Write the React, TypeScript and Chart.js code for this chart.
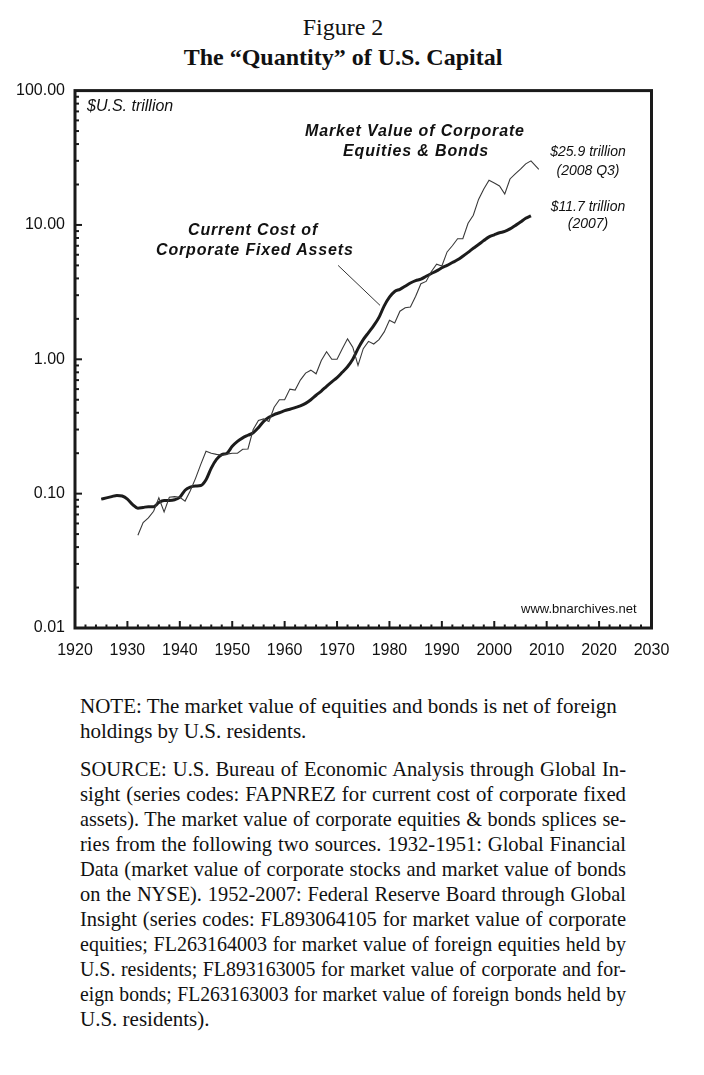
import React, { useEffect, useRef } from "react";
import { Chart, registerables } from "chart.js";

Chart.register(...registerables);

// ---------- DATA ----------
const assetYears = [
  1925, 1926, 1927, 1928, 1929, 1930, 1931, 1932, 1933, 1934, 1935, 1936, 1937, 1938, 1939,
  1940, 1941, 1942, 1943, 1944, 1945, 1946, 1947, 1948, 1949, 1950, 1951, 1952, 1953, 1954,
  1955, 1956, 1957, 1958, 1959, 1960, 1961, 1962, 1963, 1964, 1965, 1966, 1967, 1968, 1969,
  1970, 1971, 1972, 1973, 1974, 1975, 1976, 1977, 1978, 1979, 1980, 1981, 1982, 1983, 1984,
  1985, 1986, 1987, 1988, 1989, 1990, 1991, 1992, 1993, 1994, 1995, 1996, 1997, 1998, 1999,
  2000, 2001, 2002, 2003, 2004, 2005, 2006, 2007,
];
const assetValues = [
  0.091, 0.093, 0.095, 0.097, 0.096, 0.091, 0.083, 0.078, 0.079, 0.08, 0.08, 0.086, 0.089, 0.089, 0.09,
  0.094, 0.106, 0.112, 0.114, 0.115, 0.127, 0.155, 0.18, 0.195, 0.2, 0.225, 0.245, 0.26, 0.272, 0.284,
  0.31, 0.345, 0.37, 0.388, 0.4, 0.415, 0.425, 0.437, 0.45, 0.47, 0.5, 0.54, 0.58, 0.63, 0.68,
  0.73, 0.8, 0.88, 1.0, 1.2, 1.4, 1.58, 1.78, 2.05, 2.5, 2.9, 3.2, 3.32, 3.5, 3.7,
  3.85, 3.95, 4.15, 4.35, 4.55, 4.8, 5.0, 5.25, 5.5, 5.85, 6.25, 6.7, 7.15, 7.65, 8.15,
  8.45, 8.75, 8.95, 9.35, 9.9, 10.5, 11.2, 11.7,
];

const marketYears = [
  1932, 1933, 1934, 1935, 1936, 1937, 1938, 1939, 1940, 1941, 1942, 1943, 1944, 1945, 1946,
  1947, 1948, 1949, 1950, 1951, 1952, 1953, 1954, 1955, 1956, 1957, 1958, 1959, 1960, 1961,
  1962, 1963, 1964, 1965, 1966, 1967, 1968, 1969, 1970, 1971, 1972, 1973, 1974, 1975, 1976,
  1977, 1978, 1979, 1980, 1981, 1982, 1983, 1984, 1985, 1986, 1987, 1988, 1989, 1990, 1991,
  1992, 1993, 1994, 1995, 1996, 1997, 1998, 1999, 2000, 2001, 2002, 2003, 2004, 2005, 2006,
  2007, 2008.5,
];
const marketValues = [
  0.049, 0.061, 0.066, 0.074, 0.093, 0.073, 0.094, 0.095, 0.094, 0.088, 0.105, 0.13, 0.165, 0.207, 0.2,
  0.196, 0.193, 0.197, 0.2, 0.2, 0.214, 0.215, 0.3, 0.35, 0.36, 0.345, 0.44, 0.5, 0.5, 0.6,
  0.59, 0.7, 0.79, 0.83, 0.78, 0.98, 1.14, 1.0, 1.0, 1.2, 1.42, 1.23, 0.9, 1.2, 1.36,
  1.3, 1.4, 1.6, 1.95, 1.86, 2.28, 2.42, 2.45, 2.95, 3.65, 3.8, 4.5, 5.1, 4.95, 6.3,
  7.0, 7.9, 7.9, 10.3, 11.8, 15.5, 18.5, 21.5, 20.5, 19.5, 17.0, 22.0, 24.0, 26.0, 28.5,
  30.0, 25.9,
];

const yTickValues = [0.01, 0.1, 1, 10, 100];
const xMin = 1920;
const xMax = 2030;
const xStep = 10;

// leader line endpoints (data space): from label to the fixed-assets curve
const leaderFrom = { x: 1970.2, y: 5.0 };
const leaderTo = { x: 1978.2, y: 2.52 };

const noteLines = [
  "NOTE: The market value of equities and bonds is net of foreign",
  "holdings by U.S. residents.",
];
const sourceLines = [
  "SOURCE: U.S. Bureau of Economic Analysis through Global In-",
  "sight (series codes: FAPNREZ for current cost of corporate fixed",
  "assets). The market value of corporate equities & bonds splices se-",
  "ries from the following two sources. 1932-1951: Global Financial",
  "Data (market value of corporate stocks and market value of bonds",
  "on the NYSE). 1952-2007: Federal Reserve Board through Global",
  "Insight (series codes: FL893064105 for market value of corporate",
  "equities; FL263164003 for market value of foreign equities held by",
  "U.S. residents; FL893163005 for market value of corporate and for-",
  "eign bonds; FL263163003 for market value of foreign bonds held by",
  "U.S. residents).",
];

const SANS = '"Liberation Sans", Arial, Helvetica, sans-serif';
const SERIF = '"Liberation Serif", "Times New Roman", Times, serif';
const NOTE_SIZE = 21;
const TEXT_WIDTH = 546;

const framePlugin = {
  id: "frame",
  afterDatasetsDraw(chart: any) {
    const { ctx, chartArea, scales } = chart;
    const { left, right, top, bottom } = chartArea;
    const xs = scales.x;
    const ys = scales.y;
    ctx.save();
    ctx.strokeStyle = "#1a1a1a";
    ctx.lineWidth = 2;
    for (let d = -2; d <= 1; d++) {
      for (let m = 1; m <= 9; m++) {
        const v = m * Math.pow(10, d);
        const py = ys.getPixelForValue(v);
        const len = m === 1 ? 7 : 4;
        ctx.beginPath();
        ctx.moveTo(left, py);
        ctx.lineTo(left + len, py);
        ctx.stroke();
      }
    }
    for (let yr = xMin; yr <= xMax; yr += 2) {
      const px = xs.getPixelForValue(yr);
      const len = (yr - xMin) % xStep === 0 ? 7 : 3.5;
      ctx.beginPath();
      ctx.moveTo(px, bottom);
      ctx.lineTo(px, bottom - len);
      ctx.stroke();
    }
    ctx.lineWidth = 3;
    ctx.strokeRect(left, top, right - left, bottom - top);
    ctx.lineWidth = 1;
    ctx.strokeStyle = "#333";
    ctx.beginPath();
    ctx.moveTo(xs.getPixelForValue(leaderFrom.x), ys.getPixelForValue(leaderFrom.y));
    ctx.lineTo(xs.getPixelForValue(leaderTo.x), ys.getPixelForValue(leaderTo.y));
    ctx.stroke();
    ctx.restore();
  },
};

function ChartBox() {
  const ref = useRef<HTMLCanvasElement | null>(null);
  useEffect(() => {
    if (!ref.current) return;
    const chart = new Chart(ref.current, {
      type: "line",
      data: {
        datasets: [
          {
            label: "Market Value of Corporate Equities & Bonds",
            data: marketYears.map((x, i) => ({ x, y: marketValues[i] })),
            borderColor: "#3a3a3a",
            borderWidth: 1.1,
            pointRadius: 0,
            tension: 0,
            fill: false,
          },
          {
            label: "Current Cost of Corporate Fixed Assets",
            data: assetYears.map((x, i) => ({ x, y: assetValues[i] })),
            borderColor: "#1c1c1c",
            borderWidth: 3,
            pointRadius: 0,
            cubicInterpolationMode: "monotone",
            fill: false,
          },
        ],
      },
      options: {
        animation: false,
        responsive: true,
        maintainAspectRatio: false,
        layout: { padding: { left: 0, right: 52.5, top: 1, bottom: 0 } },
        plugins: { legend: { display: false }, tooltip: { enabled: false } },
        scales: {
          x: {
            type: "linear",
            min: xMin,
            max: xMax,
            grid: { display: false, drawTicks: false },
            border: { display: false },
            ticks: {
              stepSize: xStep,
              autoSkip: false,
              maxRotation: 0,
              padding: 13,
              color: "#111",
              font: { family: SANS, size: 16 },
              callback: (v: any) => String(v),
            },
            afterFit: (s: any) => {
              s.height = 52;
            },
          },
          y: {
            type: "logarithmic",
            min: 0.01,
            max: 100,
            grid: { display: false, drawTicks: false },
            border: { display: false },
            afterBuildTicks: (s: any) => {
              s.ticks = yTickValues.map((v) => ({ value: v }));
            },
            ticks: {
              autoSkip: false,
              padding: 10,
              color: "#111",
              font: { family: SANS, size: 16 },
              callback: (v: any) => Number(v).toFixed(2),
            },
            afterFit: (s: any) => {
              s.width = 75;
            },
          },
        },
      },
      plugins: [framePlugin],
    });
    return () => chart.destroy();
  }, []);
  return (
    <div style={{ position: "absolute", left: 0, top: 71, width: 704, height: 609 }}>
      <canvas ref={ref} />
    </div>
  );
}

const abs = (left: number, top: number, extra: any = {}) => ({
  position: "absolute" as const,
  left,
  top,
  whiteSpace: "nowrap" as const,
  ...extra,
});

let measureCtx: CanvasRenderingContext2D | null = null;
function measureText(t: string): number {
  if (!measureCtx) {
    measureCtx = document.createElement("canvas").getContext("2d");
  }
  if (!measureCtx) return 0;
  measureCtx.font = `${NOTE_SIZE}px ${SERIF}`;
  return measureCtx.measureText(t).width;
}

function JustifiedLine({ text, top, last }: { text: string; top: number; last: boolean }) {
  const base = { fontFamily: SERIF, fontSize: NOTE_SIZE, lineHeight: "25px", color: "#111" };
  if (last) {
    return <div style={abs(80, top, base)}>{text}</div>;
  }
  const w = measureText(text);
  const target = TEXT_WIDTH - 6;
  const scale = w > target ? target / w : 1;
  return (
    <div
      style={abs(80, top, {
        ...base,
        width: TEXT_WIDTH / scale,
        textAlign: "justify",
        textAlignLast: "justify",
        transform: `scaleX(${scale})`,
        transformOrigin: "0 0",
      })}
    >
      {text}
    </div>
  );
}

export default function App() {
  const labelBI = { fontFamily: SANS, fontSize: 16, lineHeight: "16px", fontWeight: 700, fontStyle: "italic", letterSpacing: "0.85px", color: "#111" };
  const smallI = { fontFamily: SANS, fontSize: 14, lineHeight: "14px", fontStyle: "italic", color: "#111", width: 120, textAlign: "center" as const };
  const noteStyle = { fontFamily: SERIF, fontSize: NOTE_SIZE, lineHeight: "25px", color: "#111" };
  return (
    <div style={{ position: "absolute", left: 0, top: 0, width: 704, height: 1075, background: "#fff", overflow: "hidden" }}>
      <div style={abs(0, 12, { width: 686, textAlign: "center", fontFamily: SERIF, fontSize: 24, lineHeight: "30px", color: "#111" })}>Figure 2</div>
      <div style={abs(0, 42, { width: 686, textAlign: "center", fontFamily: SERIF, fontSize: 24, lineHeight: "30px", fontWeight: 700, color: "#111" })}>
        The “Quantity” of U.S. Capital
      </div>

      <ChartBox />

      <div style={abs(87, 98, { fontFamily: SANS, fontSize: 16, lineHeight: "16px", fontStyle: "italic", color: "#111" })}>$U.S. trillion</div>
      <div style={abs(305, 123, labelBI)}>Market Value of Corporate</div>
      <div style={abs(343, 143, labelBI)}>Equities &amp; Bonds</div>
      <div style={abs(188, 221.5, labelBI)}>Current Cost of</div>
      <div style={abs(156, 241.5, labelBI)}>Corporate Fixed Assets</div>

      <div style={abs(528, 144, smallI)}>$25.9 trillion</div>
      <div style={abs(528, 163, smallI)}>(2008 Q3)</div>
      <div style={abs(528, 199, smallI)}>$11.7 trillion</div>
      <div style={abs(528, 216, smallI)}>(2007)</div>

      <div style={abs(521, 602, { fontFamily: SANS, fontSize: 13, lineHeight: "13px", color: "#111" })}>www.bnarchives.net</div>

      {noteLines.map((t, i) => (
        <div key={"n" + i} style={abs(80, 694 + i * 25, noteStyle)}>{t}</div>
      ))}
      {sourceLines.map((t, i) => (
        <JustifiedLine key={"s" + i} text={t} top={757 + i * 25} last={i === sourceLines.length - 1} />
      ))}
    </div>
  );
}
